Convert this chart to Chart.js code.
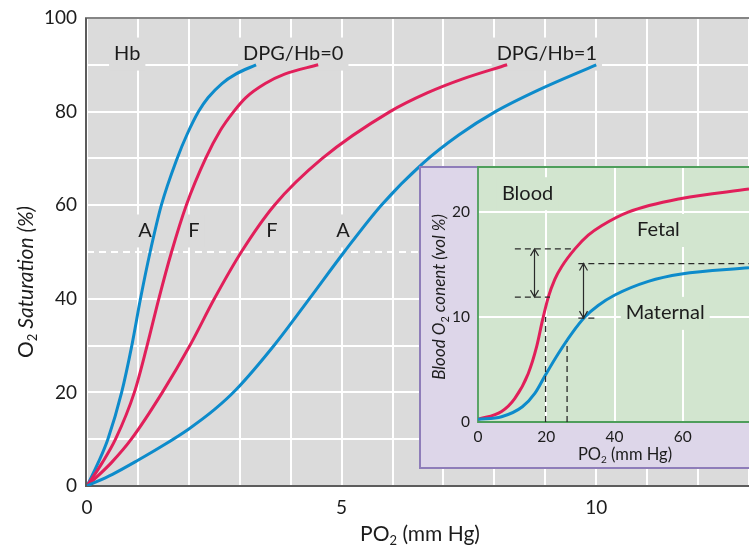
<!DOCTYPE html>
<html lang="en">
<head>
  <meta charset="UTF-8" />
  <title>O2 Saturation Curves</title>
  <script src="https://cdn.jsdelivr.net/npm/chart.js@4.4.0/dist/chart.umd.min.js"></script>
  <style>
    body { margin: 0; background: #fff; }
    #wrap { position: relative; width: 749px; height: 546px; overflow: hidden; }
    #mainChart { position: absolute; left: 0; top: 0; }
    #insetChart { position: absolute; left: 419px; top: 155px; }
  </style>
</head>
<body>
  <div id="wrap">
    <canvas id="mainChart" width="749" height="546"></canvas>
    <canvas id="insetChart" width="330" height="314"></canvas>
  </div>

  <script>
    // -------------------------------
    // DATA: main panel (PO2 in mm Hg, saturation in %)
    // -------------------------------
    // Hb A, DPG/Hb = 0
    const hbA0_po2 = [0, 0.22, 0.41, 0.68, 0.88, 1.05, 1.24, 1.46, 1.77, 1.96, 2.19, 2.38, 2.65, 2.92, 3.32];
    const hbA0_sat = [0, 5, 10, 20, 30, 40, 50, 60, 70, 75, 80, 83, 86, 88, 90];

    // Hb F, DPG/Hb = 0
    const hbF0_po2 = [0, 0.30, 0.56, 0.93, 1.18, 1.41, 1.66, 1.95, 2.33, 2.62, 2.88, 3.12, 3.5, 3.88, 4.54];
    const hbF0_sat = [0, 5, 10, 20, 30, 40, 50, 60, 70, 76, 80, 83, 86, 88, 90];

    // Hb F, DPG/Hb = 1
    const hbF1_po2 = [0, 0.48, 0.87, 1.48, 2.02, 2.50, 3.03, 3.68, 4.62, 5.95, 6.68, 7.38, 8.25];
    const hbF1_sat = [0, 5, 10, 20, 30, 40, 50, 60, 70, 80, 84, 87, 90];

    // Hb A, DPG/Hb = 1
    const hbA1_po2 = [0, 0.5, 1.0, 1.5, 2.0, 2.5, 2.92, 3.7, 4.38, 5.05, 5.78, 6.6, 7.3, 8.02, 8.86, 10.0];
    const hbA1_sat = [0, 2.5, 5.5, 8.7, 12.2, 16.3, 20.5, 30.4, 40.2, 50, 60, 69, 75, 80, 84.6, 90];

    const po2TickLabels = [0, 5, 10];
    const satTickLabels = [0, 20, 40, 60, 80, 100];

    // -------------------------------
    // DATA: inset (blood O2 content, vol %)
    // -------------------------------
    const fetal_po2 = [0, 6.9, 10.8, 14.7, 17.2, 18.9, 20.6, 22.5, 24.5, 28.4, 32.3, 36.2, 44, 59.6, 79.4];
    const fetal_o2 = [0.25, 1.0, 2.25, 4.6, 7.2, 9.7, 11.9, 13.6, 14.8, 16.5, 17.8, 18.7, 20, 21.3, 22.2];

    const maternal_po2 = [0, 6.9, 13.0, 16.7, 19.8, 23.5, 27.4, 31.3, 35.2, 40.1, 49.9, 59.6, 79.4];
    const maternal_o2 = [0.25, 0.5, 1.45, 2.75, 4.5, 6.5, 8.4, 10.0, 11.1, 12.1, 13.4, 14.1, 14.7];

    // dashed guides: horizontal (y, from x0 to x1) and vertical (x, from 0 up to top)
    const guideH_y = [16.5, 11.9, 15.1, 9.9];
    const guideH_x0 = [10.8, 10.8, 29.4, 29.4];
    const guideH_x1 = [28.4, 21.1, 79.4, 35.2];
    const guideV_x = [19.8, 26.1];
    const guideV_top = [10.0, 7.65];

    // double headed arrows
    const arrow_x = [16.5, 30.8];
    const arrow_top = [16.5, 15.1];
    const arrow_bottom = [11.9, 9.9];

    const insetTickLabelsX = [0, 20, 40, 60];
    const insetTickLabelsY = [0, 10, 20];

    // -------------------------------
    // STYLE
    // -------------------------------
    const FONT = "Lato, 'Open Sans', sans-serif";
    const INK = "#1c1c1c";
    const BLUE = "#0d8bcb";
    const RED = "#e11f5a";
    const PLOT_GRAY = "#dbdbdb";
    const LILAC = "#ddd6e9";
    const LILAC_EDGE = "#8e7db9";
    const MINT = "#d2e5cf";
    const MINT_EDGE = "#4e9e5b";
    const NONE = "rgba(0,0,0,0)";

    const mainLabels = [
      { text: "Hb", x: 0.79, y: 92.4 },
      { text: "DPG/Hb=0", x: 4.05, y: 92.4 },
      { text: "DPG/Hb=1", x: 9.03, y: 92.4 },
      { text: "A", x: 1.14, y: 54.6 },
      { text: "F", x: 2.1, y: 54.6 },
      { text: "F", x: 3.63, y: 54.6 },
      { text: "A", x: 5.03, y: 54.6 },
    ];

    const insetLabels = [
      { text: "Blood", x: 7.0, y: 21.8 },
      { text: "Fetal", x: 46.6, y: 18.3 },
      { text: "Maternal", x: 43.3, y: 10.4 },
    ];

    const toPoints = (xs, ys) => xs.map((x, i) => ({ x: x, y: ys[i] }));

    function curve(xs, ys, color) {
      return {
        data: toPoints(xs, ys),
        showLine: true,
        borderColor: color,
        borderWidth: 3,
        pointRadius: 0,
        cubicInterpolationMode: "monotone",
        fill: false,
      };
    }

    function guide(points) {
      return {
        data: points,
        showLine: true,
        borderColor: "#2a2a2a",
        borderWidth: 1.3,
        borderDash: [6, 4],
        pointRadius: 0,
        tension: 0,
        fill: false,
      };
    }

    // text with a subscript part, centred on (x, y), optionally rotated
    function drawRich(ctx, parts, x, y, size, rotate) {
      ctx.save();
      ctx.translate(x, y);
      if (rotate) ctx.rotate(-Math.PI / 2);
      ctx.textBaseline = "middle";
      ctx.textAlign = "left";
      ctx.fillStyle = INK;
      const fontOf = (p) =>
        (p.italic ? "italic " : "") + (p.sub ? Math.round(size * 0.62) : size) + "px " + FONT;
      let total = 0;
      parts.forEach((p) => {
        ctx.font = fontOf(p);
        total += ctx.measureText(p.t).width;
      });
      let cx = -total / 2;
      parts.forEach((p) => {
        ctx.font = fontOf(p);
        ctx.fillText(p.t, cx, p.sub ? size * 0.32 : 0);
        cx += ctx.measureText(p.t).width;
      });
      ctx.restore();
    }

    function boxedLabel(ctx, text, px, py, size, bg, alignLeft) {
      ctx.save();
      ctx.font = size + "px " + FONT;
      const w = ctx.measureText(text).width;
      const left = alignLeft ? px : px - w / 2;
      ctx.fillStyle = bg;
      ctx.fillRect(left - 5, py - 16, w + 10, 33);
      ctx.fillStyle = INK;
      ctx.textAlign = "left";
      ctx.textBaseline = "middle";
      ctx.fillText(text, left, py);
      ctx.restore();
    }

    // -------------------------------
    // MAIN CHART
    // -------------------------------
    const mainDecor = {
      id: "mainDecor",
      beforeDraw(chart) {
        const { ctx, chartArea: a } = chart;
        ctx.save();
        ctx.fillStyle = PLOT_GRAY;
        ctx.fillRect(a.left, a.top, a.right - a.left, a.bottom - a.top);
        ctx.restore();
      },
      beforeDatasetsDraw(chart) {
        const { ctx, chartArea: a, scales } = chart;
        const xs = scales.x, ys = scales.y;
        ctx.save();

        // dashed 50% line
        const y50 = Math.round(ys.getPixelForValue(50));
        ctx.strokeStyle = "#fff";
        ctx.lineWidth = 2;
        ctx.setLineDash([7, 5]);
        ctx.beginPath();
        ctx.moveTo(a.left, y50);
        ctx.lineTo(xs.getPixelForValue(6.6), y50);
        ctx.stroke();
        ctx.setLineDash([]);

        mainLabels.forEach((l) => {
          boxedLabel(ctx, l.text, xs.getPixelForValue(l.x), ys.getPixelForValue(l.y), 20, PLOT_GRAY, false);
        });

        // frame
        ctx.strokeStyle = "#5c5c5c";
        ctx.lineWidth = 2;
        ctx.beginPath();
        ctx.moveTo(a.right, a.bottom);
        ctx.lineTo(a.left - 1, a.bottom);
        ctx.lineTo(a.left - 1, a.top);
        ctx.stroke();
        ctx.lineWidth = 1.5;
        ctx.beginPath();
        ctx.moveTo(a.left - 2, a.top);
        ctx.lineTo(a.right, a.top);
        ctx.stroke();
        ctx.restore();
      },
      afterDraw(chart) {
        const ctx = chart.ctx;
        drawRich(ctx, [{ t: "PO" }, { t: "2", sub: true }, { t: " (mm Hg)" }], 420, 534, 21, false);
        drawRich(ctx, [{ t: "O" }, { t: "2", sub: true }, { t: " Saturation (%)", italic: true }], 26, 282, 21, true);
      },
    };

    new Chart(document.getElementById("mainChart"), {
      type: "scatter",
      data: {
        datasets: [
          curve(hbA1_po2, hbA1_sat, BLUE),
          curve(hbF1_po2, hbF1_sat, RED),
          curve(hbF0_po2, hbF0_sat, RED),
          curve(hbA0_po2, hbA0_sat, BLUE),
        ],
      },
      options: {
        responsive: false,
        animation: false,
        events: [],
        layout: { padding: { top: 18, right: 0, bottom: 0, left: 0 } },
        plugins: { legend: { display: false }, tooltip: { enabled: false } },
        scales: {
          x: {
            type: "linear",
            min: 0,
            max: 13,
            ticks: {
              stepSize: 1,
              padding: 0,
              maxRotation: 0,
              autoSkip: false,
              color: INK,
              font: { family: FONT, size: 19 },
              callback: (v) => (po2TickLabels.includes(v) ? String(v) : ""),
            },
            grid: { color: "#fff", lineWidth: 2, drawTicks: true, tickLength: 10, tickColor: NONE },
            border: { display: false },
            afterFit: (s) => { s.height = 60; },
          },
          y: {
            min: 0,
            max: 100,
            ticks: {
              stepSize: 10,
              padding: 0,
              color: INK,
              font: { family: FONT, size: 19 },
              callback: (v) => (satTickLabels.includes(v) ? String(v) : ""),
            },
            grid: {
              color: (c) => (c.tick && c.tick.value === 50 ? NONE : "#fff"),
              lineWidth: 2,
              drawTicks: true,
              tickLength: 10,
              tickColor: NONE,
            },
            border: { display: false },
            afterFit: (s) => { s.width = 87; },
          },
        },
      },
      plugins: [mainDecor],
    });

    // -------------------------------
    // INSET CHART
    // -------------------------------
    const insetDecor = {
      id: "insetDecor",
      beforeDraw(chart) {
        const { ctx, chartArea: a, width } = chart;
        ctx.save();
        ctx.fillStyle = LILAC;
        ctx.fillRect(1, a.top, width - 1, 301);
        ctx.strokeStyle = LILAC_EDGE;
        ctx.lineWidth = 2;
        ctx.beginPath();
        ctx.moveTo(width, a.top);
        ctx.lineTo(1, a.top);
        ctx.lineTo(1, a.top + 301);
        ctx.lineTo(width, a.top + 301);
        ctx.stroke();
        ctx.fillStyle = MINT;
        ctx.fillRect(a.left, a.top, a.right - a.left, a.bottom - a.top);
        ctx.restore();
      },
      beforeDatasetsDraw(chart) {
        const { ctx, chartArea: a, scales } = chart;
        ctx.save();
        insetLabels.forEach((l) => {
          boxedLabel(ctx, l.text, scales.x.getPixelForValue(l.x), scales.y.getPixelForValue(l.y), 20, MINT, true);
        });
        ctx.strokeStyle = MINT_EDGE;
        ctx.lineWidth = 1.8;
        ctx.beginPath();
        ctx.moveTo(a.right, a.top);
        ctx.lineTo(a.left, a.top);
        ctx.lineTo(a.left, a.bottom);
        ctx.lineTo(a.right, a.bottom);
        ctx.stroke();
        ctx.restore();
      },
      afterDatasetsDraw(chart) {
        const { ctx, scales } = chart;
        ctx.save();
        ctx.strokeStyle = "#2a2a2a";
        ctx.lineWidth = 1.2;
        arrow_x.forEach((x, i) => {
          const px = Math.round(scales.x.getPixelForValue(x)) + 0.5;
          const p0 = scales.y.getPixelForValue(arrow_top[i]);
          const p1 = scales.y.getPixelForValue(arrow_bottom[i]);
          ctx.beginPath();
          ctx.moveTo(px, p0);
          ctx.lineTo(px, p1);
          ctx.moveTo(px - 4, p0 + 7);
          ctx.lineTo(px, p0);
          ctx.lineTo(px + 4, p0 + 7);
          ctx.moveTo(px - 4, p1 - 7);
          ctx.lineTo(px, p1);
          ctx.lineTo(px + 4, p1 - 7);
          ctx.stroke();
        });
        ctx.restore();
      },
      afterDraw(chart) {
        const ctx = chart.ctx;
        drawRich(ctx, [{ t: "PO" }, { t: "2", sub: true }, { t: " (mm Hg)" }], 206, 300, 16.5, false);
        drawRich(
          ctx,
          [{ t: "Blood O", italic: true }, { t: "2", sub: true }, { t: " conent (vol %)", italic: true }],
          21, 142, 17, true
        );
      },
    };

    const guideSets = [];
    guideH_y.forEach((y, i) => {
      guideSets.push(guide([{ x: guideH_x0[i], y: y }, { x: guideH_x1[i], y: y }]));
    });
    guideV_x.forEach((x, i) => {
      guideSets.push(guide([{ x: x, y: 0 }, { x: x, y: guideV_top[i] }]));
    });

    new Chart(document.getElementById("insetChart"), {
      type: "scatter",
      data: {
        datasets: [
          ...guideSets,
          curve(maternal_po2, maternal_o2, BLUE),
          curve(fetal_po2, fetal_o2, RED),
        ],
      },
      options: {
        responsive: false,
        animation: false,
        events: [],
        layout: { padding: { top: 12, right: 0, bottom: 0, left: 0 } },
        plugins: { legend: { display: false }, tooltip: { enabled: false } },
        scales: {
          x: {
            type: "linear",
            min: 0,
            max: 79.4,
            afterBuildTicks: (s) => {
              s.ticks = s.ticks.filter((t) => insetTickLabelsX.includes(t.value));
            },
            ticks: {
              stepSize: 20,
              padding: 0,
              maxRotation: 0,
              autoSkip: false,
              color: INK,
              font: { family: FONT, size: 15.5 },
            },
            grid: {
              color: (c) => (c.tick && c.tick.value > 0 ? "#fff" : NONE),
              lineWidth: 2,
              drawTicks: true,
              tickLength: 6,
              tickColor: NONE,
            },
            border: { display: false },
            afterFit: (s) => { s.height = 47; },
          },
          y: {
            min: 0,
            max: 24.3,
            afterBuildTicks: (s) => {
              s.ticks = s.ticks.filter((t) => insetTickLabelsY.includes(t.value));
            },
            ticks: {
              stepSize: 10,
              padding: 0,
              color: INK,
              font: { family: FONT, size: 15.5 },
            },
            grid: {
              color: (c) => (c.tick && c.tick.value > 0 ? "#fff" : NONE),
              lineWidth: 2,
              drawTicks: true,
              tickLength: 8,
              tickColor: NONE,
            },
            border: { display: false },
            afterFit: (s) => { s.width = 59; },
          },
        },
      },
      plugins: [insetDecor],
    });
  </script>
</body>
</html>
